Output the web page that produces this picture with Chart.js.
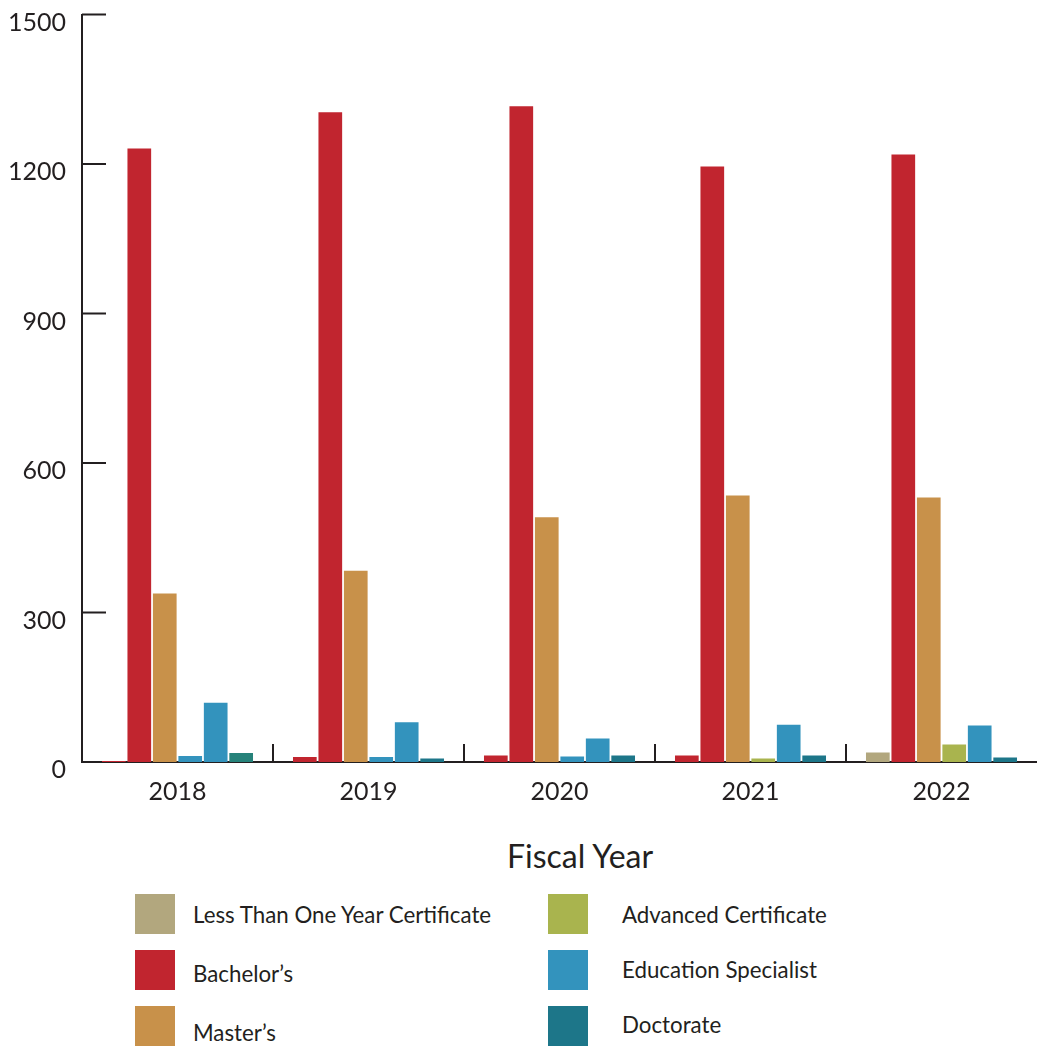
<!DOCTYPE html>
<html>
<head>
<meta charset="utf-8">
<script src="https://cdn.jsdelivr.net/npm/chart.js@4.4.1/dist/chart.umd.min.js"></script>
<style>
  html, body { margin: 0; padding: 0; background: #fff; }
  body { width: 1037px; height: 1047px; position: relative; overflow: hidden; font-family: Lato, sans-serif; color: #231f20; }
  #chart { position: absolute; left: 0; top: -14px; }
  #xtitle { position: absolute; left: 580px; top: 836px; transform: translateX(-50%); font-size: 32px; white-space: nowrap; }
  .item { position: absolute; height: 40px; display: flex; align-items: center; font-size: 22.3px; white-space: nowrap; }
  .item .sw { width: 40px; height: 40px; flex: none; }
</style>
</head>
<body>
<canvas id="chart" width="1037" height="844"></canvas>
<div id="xtitle">Fiscal Year</div>
<div id="legend"></div>
<script>
// values
const years = ["2018", "2019", "2020", "2021", "2022"];
const lessThanOneYear = [2, 10, 13, 13, 19];
const bachelors = [1231, 1304, 1316, 1195, 1219];
const masters = [338, 384, 491, 535, 531];
const advancedCert = [12, 10, 11, 7, 35];
const eduSpecialist = [119, 80, 47, 75, 73];
const doctorate = [18, 7, 13, 13, 9];
const yTicks = [0, 300, 600, 900, 1200, 1500];

const khaki = "#b2a77e", red = "#c1252f", tan = "#c8914a",
      green = "#a9b44e", blue = "#3393bd", teal = "#1d7689";

// the source picture colours a few bars differently from their legend entry
const series = [
    { label: "Less Than One Year Certificate", data: lessThanOneYear, color: khaki, bars: [red, red, red, red, khaki] },
    { label: "Bachelor\u2019s", data: bachelors, color: red },
    { label: "Master\u2019s", data: masters, color: tan },
    { label: "Advanced Certificate", data: advancedCert, color: green, bars: [blue, blue, blue, green, green] },
    { label: "Education Specialist", data: eduSpecialist, color: blue },
    { label: "Doctorate", data: doctorate, color: teal, bars: ["#26827a", teal, teal, teal, teal] }
];

// tick marks drawn inside the plot like the original
const innerTicks = {
    id: "innerTicks",
    afterDraw(chart) {
        const ctx = chart.ctx, x = chart.scales.x, y = chart.scales.y;
        ctx.save();
        ctx.strokeStyle = "#231f20";
        ctx.lineWidth = 2;
        ctx.beginPath();
        y.ticks.forEach((t, i) => {
            if (i === 0) return;
            const py = y.getPixelForTick(i);
            ctx.moveTo(x.left, py);
            ctx.lineTo(x.left + 24, py);
        });
        for (let i = 1; i < x.ticks.length; i++) {
            const px = (x.getPixelForTick(i - 1) + x.getPixelForTick(i)) / 2;
            ctx.moveTo(px, y.bottom);
            ctx.lineTo(px, y.bottom - 18);
        }
        ctx.stroke();
        ctx.restore();
    }
};

Chart.defaults.font.family = "Lato";
Chart.defaults.color = "#231f20";

new Chart(document.getElementById("chart"), {
    type: "bar",
    data: {
        labels: years,
        datasets: series.map(s => ({
            label: s.label,
            data: s.data,
            backgroundColor: s.bars || s.color,
            categoryPercentage: 0.8,
            barPercentage: 0.93
        }))
    },
    options: {
        responsive: false,
        animation: false,
        layout: { padding: { left: 10, top: 0, right: 0, bottom: 8 } },
        plugins: {
            legend: { display: false },
            tooltip: { enabled: false }
        },
        scales: {
            x: {
                grid: { display: false, drawTicks: false },
                border: { display: true, color: "#231f20", width: 2 },
                ticks: { font: { size: 25 }, padding: 15 }
            },
            y: {
                min: 0,
                max: 1500,
                afterBuildTicks: axis => { axis.ticks = yTicks.map(v => ({ value: v })); },
                afterFit: axis => { axis.width = 72; },
                grid: { display: false, drawTicks: false },
                border: { display: true, color: "#231f20", width: 2 },
                ticks: {
                    font: { size: 25, lineHeight: 1.0 },
                    padding: 16,
                    labelOffset: 8,
                    callback: v => String(v)
                }
            }
        }
    },
    plugins: [innerTicks]
});

// two-column legend, filled top to bottom
const legend = document.getElementById("legend");
const colLeft = [135, 548], textGap = [18, 34];
series.forEach((s, i) => {
    const col = Math.floor(i / 3), row = i % 3;
    const el = document.createElement("div");
    el.className = "item";
    el.style.left = colLeft[col] + "px";
    el.style.top = (894 + row * 56) + "px";
    const sw = document.createElement("span");
    sw.className = "sw";
    sw.style.background = s.color;
    const tx = document.createElement("span");
    tx.style.marginLeft = textGap[col] + "px";
    tx.style.position = "relative";
    tx.style.top = (row === 0 ? 0 : (col === 0 ? row * 3 : -row)) + "px";
    tx.textContent = s.label;
    el.appendChild(sw);
    el.appendChild(tx);
    legend.appendChild(el);
});
</script>
</body>
</html>
